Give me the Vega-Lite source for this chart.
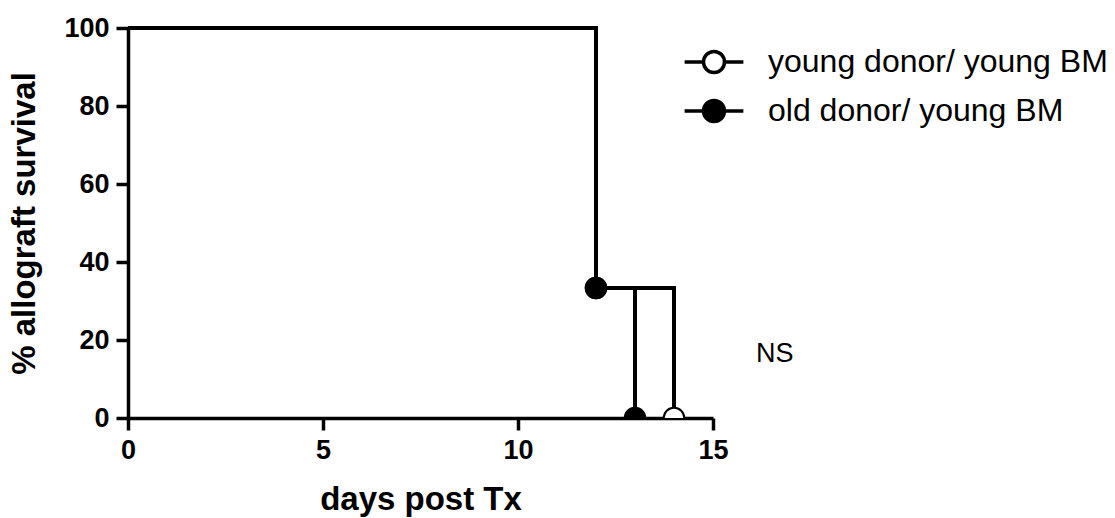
{
  "$schema": "https://vega.github.io/schema/vega-lite/v6.json",
  "width": 585,
  "height": 390,
  "autosize": {"type": "none"},
  "padding": {"left": 128, "top": 28, "right": 402, "bottom": 100},
  "background": "white",
  "config": {
    "view": {"stroke": null},
    "font": "Liberation Sans",
    "axis": {
      "domainColor": "black",
      "domainWidth": 3.5,
      "tickColor": "black",
      "tickWidth": 3.5,
      "tickSize": 12,
      "grid": false,
      "labelFont": "Liberation Sans",
      "labelFontWeight": "bold",
      "labelFontSize": 27,
      "labelColor": "black",
      "labelFlush": false,
      "titleFont": "Liberation Sans",
      "titleFontWeight": "bold",
      "titleFontSize": 33,
      "titleColor": "black"
    }
  },
  "datasets": {
    "survival": [
      {"series": "young donor/ young BM", "day": 0, "pct": 100},
      {"series": "young donor/ young BM", "day": 12, "pct": 33.33},
      {"series": "young donor/ young BM", "day": 14, "pct": 0},
      {"series": "old donor/ young BM", "day": 0, "pct": 100},
      {"series": "old donor/ young BM", "day": 12, "pct": 33.33},
      {"series": "old donor/ young BM", "day": 13, "pct": 0}
    ]
  },
  "layer": [
    {
      "data": {"name": "survival"},
      "mark": {"type": "line", "interpolate": "step-after", "color": "black", "strokeWidth": 4},
      "encoding": {
        "x": {
          "field": "day", "type": "quantitative",
          "scale": {"domain": [0, 15], "nice": false},
          "axis": {"values": [0, 5, 10, 15], "title": "days post Tx", "labelPadding": 7, "titlePadding": 20}
        },
        "y": {
          "field": "pct", "type": "quantitative",
          "scale": {"domain": [0, 100], "nice": false},
          "axis": {"values": [0, 20, 40, 60, 80, 100], "title": "% allograft survival", "labelPadding": 7, "titlePadding": 22}
        },
        "detail": {"field": "series"}
      }
    },
    {
      "data": {"name": "survival"},
      "transform": [{"filter": "datum.day > 0"}],
      "mark": {"type": "point", "shape": "circle", "filled": false, "stroke": "black", "strokeWidth": 2, "size": 420, "opacity": 1, "clip": true},
      "encoding": {
        "x": {"field": "day", "type": "quantitative"},
        "y": {"field": "pct", "type": "quantitative"},
        "fill": {
          "field": "series", "type": "nominal",
          "scale": {"domain": ["young donor/ young BM", "old donor/ young BM"], "range": ["white", "black"]},
          "legend": {
            "title": null,
            "orient": "none",
            "legendX": 570,
            "legendY": 18,
            "padding": 0,
            "labelFont": "Liberation Sans",
            "labelFontSize": 32,
            "labelColor": "black",
            "labelLimit": 0,
            "labelOffset": 38,
            "rowPadding": 13,
            "symbolType": "M-2.8,0H-1M1,0H2.8M-1,0A1,1,0,1,0,1,0A1,1,0,1,0,-1,0Z",
            "symbolSize": 441,
            "symbolStrokeColor": "black",
            "symbolStrokeWidth": 3.5,
            "symbolOpacity": 1
          }
        },
        "order": {"field": "series", "sort": "descending"}
      }
    },
    {
      "data": {"values": [{"label": "NS", "day": 16.1, "pct": 16.5}]},
      "mark": {"type": "text", "align": "left", "baseline": "middle", "fontSize": 27, "font": "Liberation Sans", "color": "black", "clip": false},
      "encoding": {
        "x": {"field": "day", "type": "quantitative"},
        "y": {"field": "pct", "type": "quantitative"},
        "text": {"field": "label"}
      }
    }
  ]
}
